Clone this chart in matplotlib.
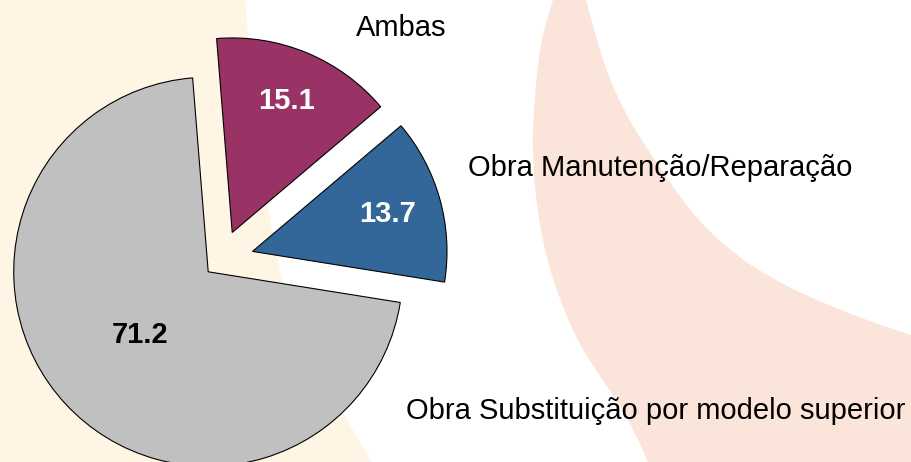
import numpy as np
import matplotlib.pyplot as plt
from matplotlib.patches import Polygon

# chart data
categories = ['Obra Substituição por modelo superior', 'Obra Manutenção/Reparação', 'Ambas']
values = [71.2, 13.7, 15.1]
value_labels = ['71.2', '13.7', '15.1']

colors = ['#c0c0c0', '#336699', '#993366']
explode = [0.087, 0.17, 0.155]
text_colors = ['black', 'white', 'white']
pct_dist = [0.48, 0.72, 0.73]
# category label anchors (left, baseline) in pixels
label_pos = [(406, 419), (468, 176), (356, 36)]

plt.rcParams['font.family'] = ['Liberation Sans', 'DejaVu Sans']


def smooth(pts, n=4):
    # chaikin corner cutting, keeps the end points
    pts = np.asarray(pts, dtype=float)
    for _ in range(n):
        q = 0.75 * pts[:-1] + 0.25 * pts[1:]
        r = 0.25 * pts[:-1] + 0.75 * pts[1:]
        mid = np.empty((2 * len(q), 2))
        mid[0::2] = q
        mid[1::2] = r
        pts = np.vstack([pts[:1], mid, pts[-1:]])
    return pts


W, H = 911, 462
fig = plt.figure(figsize=(W / 100, H / 100), dpi=100)
fig.patch.set_facecolor('white')

# background decoration (slide template shapes)
bg = fig.add_axes([0, 0, 1, 1])
bg.set_xlim(0, W)
bg.set_ylim(H, 0)
bg.axis('off')

cream_edge = smooth([(245, 0), (252, 80), (262, 170), (280, 280), (305, 340),
                     (345, 417), (372, H)])
cream = np.vstack([[(0, 0)], cream_edge, [(0, H)]])
bg.add_patch(Polygon(cream, closed=True, facecolor='#fef5e4', edgecolor='none'))

left_edge = smooth([(553, 0), (541, 40), (535, 90), (532, 150), (537, 210), (547, 260),
                    (560, 300), (577, 340), (597, 372), (620, 405), (636, 435), (648, H)])
right_edge = smooth([(W, 335), (860, 318), (800, 293), (765, 274), (740, 258), (705, 228),
                     (677, 193), (655, 160), (633, 127), (615, 92), (601, 55), (586, 0)])
peach = np.vstack([left_edge, [(W, H)], right_edge])
bg.add_patch(Polygon(peach, closed=True, facecolor='#fbe4d9', edgecolor='none'))

# pie
ax = fig.add_axes([0, 0, 1, 1])
ax.set_facecolor('none')
wedges, _ = ax.pie(values, colors=colors, explode=explode, startangle=94.6,
                   counterclock=True,
                   wedgeprops=dict(edgecolor='black', linewidth=0.8))
ax.set_aspect('auto')
ax.set_xlim(-1.1344, 3.5494)
ax.set_ylim(-1.0371, 1.3382)
ax.axis('off')

for w, lab, d, c in zip(wedges, value_labels, pct_dist, text_colors):
    ang = np.deg2rad((w.theta1 + w.theta2) / 2)
    x = w.center[0] + d * np.cos(ang)
    y = w.center[1] + d * np.sin(ang)
    ax.text(x, y, lab, ha='center', va='center', fontsize=21,
            fontweight='bold', color=c)

for name, (px, py) in zip(categories, label_pos):
    ax.text(px, py, name, transform=bg.transData, ha='left', va='baseline',
            fontsize=21, color='black')

fig.savefig('out.png', dpi=100)
